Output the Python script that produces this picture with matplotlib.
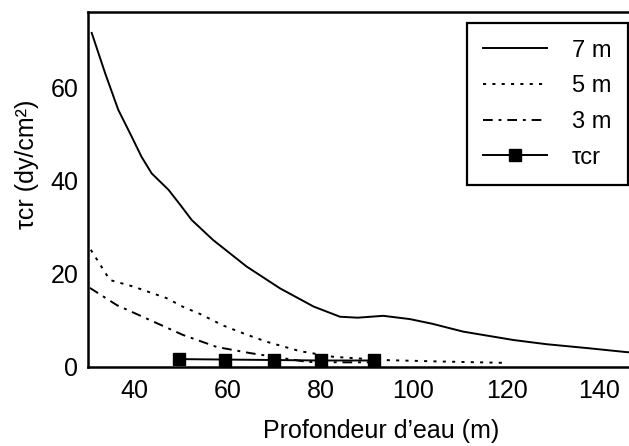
import matplotlib
matplotlib.use("Agg")
import matplotlib.pyplot as plt

plt.rcParams['font.family'] = ['Liberation Sans', 'DejaVu Sans']

# 7 m curve
x7 = [30.8, 33.7, 36.5, 39.4, 41.5, 43.7, 47.3, 49.8, 52.3, 56.9, 64.1, 71.3, 78.5, 84.2, 88, 93.5, 99.2, 104, 110.7, 121.5, 128.6, 138.0, 145.8, 150]
y7 = [71.8, 63.1, 55.3, 49.5, 45.2, 41.6, 38.1, 34.9, 31.6, 27.3, 21.6, 16.9, 13.0, 10.8, 10.6, 11.0, 10.3, 9.3, 7.6, 5.8, 4.9, 4.0, 3.2, 2.9]

# 5 m curve
x5 = [30.6, 34.7, 39.7, 46.9, 50.5, 54.1, 59.1, 64.0, 68.5, 75.6, 82.7, 93.4, 105, 119.2]
y5 = [25.2, 18.7, 17.3, 14.8, 12.9, 11.4, 8.9, 7.0, 5.4, 3.4, 2.2, 1.5, 1.2, 0.9]

# 3 m curve
x3 = [30.4, 36.2, 43.3, 50.4, 57.7, 64.8, 71.9, 77.1, 84, 92]
y3 = [17.0, 13.3, 10.1, 6.9, 4.3, 3.0, 1.9, 1.1, 1.0, 1.0]

# tau_cr points
xt = [49.5, 59.5, 70, 80, 91.5]
yt = [1.7, 1.6, 1.5, 1.4, 1.4]

xticks = [40, 60, 80, 100, 120, 140]
yticks = [0, 20, 40, 60]

fig = plt.figure(figsize=(6.29, 4.46), dpi=100)
ax = fig.add_axes([88/629, 79/446, 558/629, 355/446])

ax.plot(x7, y7, color='black', lw=1.4, label='7 m')
ax.plot(x5, y5, color='black', lw=1.4, linestyle=(0, (1.6, 3.2)), label='5 m')
ax.plot(x3, y3, color='black', lw=1.4, linestyle=(0, (5, 3, 1.5, 3)), label='3 m')
ax.plot(xt, yt, color='black', lw=1.4, marker='s', markersize=8, label='τcr')

ax.set_xlim(30, 150)
ax.set_ylim(0, 76.3)
ax.set_xticks(xticks)
ax.set_yticks(yticks)
ax.tick_params(length=0, labelsize=18)
ax.tick_params(axis='x', pad=9)
ax.tick_params(axis='y', pad=7)
for s in ['left', 'bottom', 'top', 'right']:
    ax.spines[s].set_linewidth(1.8)

ax.set_xlabel("Profondeur d’eau (m)", fontsize=18)
ax.xaxis.set_label_coords((381 - 88) / 558, -(419 - 367) / 355)
ax.set_ylabel("τcr (dy/cm²)", fontsize=18)
ax.yaxis.set_label_coords(-(88 - 27) / 558, (367 - 164) / 355)
ax.yaxis.label.set_va('center')

leg = ax.legend(loc='upper right', bbox_to_anchor=(628/629, 1 - 23/446),
                bbox_transform=fig.transFigure, fontsize=17,
                frameon=True, fancybox=False, edgecolor='black', framealpha=1,
                handlelength=2.7, labelspacing=0.58, borderpad=0.7,
                handletextpad=1.05, borderaxespad=0)
leg.get_frame().set_linewidth(1.6)

fig.savefig('out.png', dpi=100)
